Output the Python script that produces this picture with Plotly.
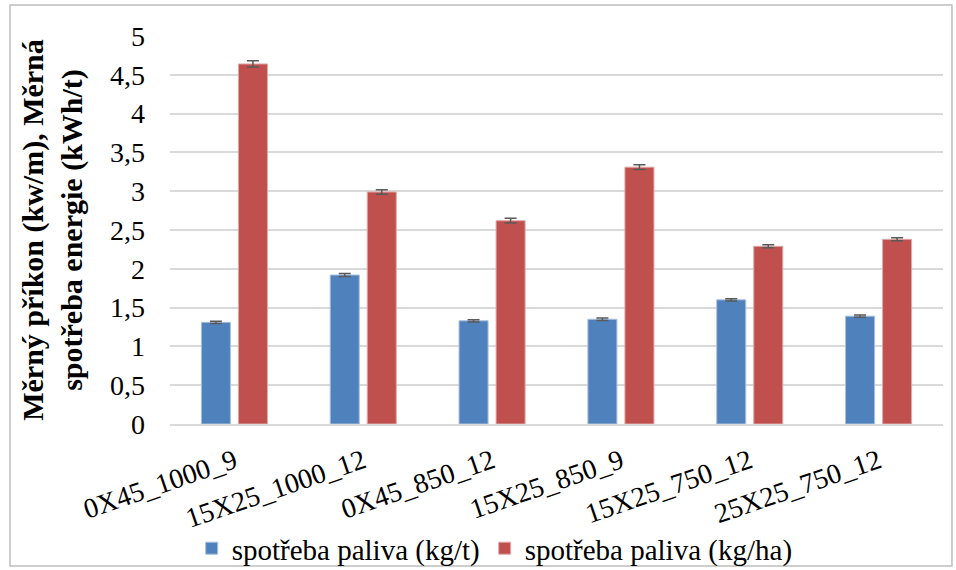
import plotly.graph_objects as go

# data
categories = ['0X45_1000_9', '15X25_1000_12', '0X45_850_12',
              '15X25_850_9', '15X25_750_12', '25X25_750_12']
fuel_kg_t = [1.31, 1.92, 1.33, 1.35, 1.60, 1.39]
fuel_kg_t_err = [0.015, 0.02, 0.015, 0.015, 0.015, 0.015]
fuel_kg_ha = [4.64, 2.99, 2.62, 3.31, 2.29, 2.38]
fuel_kg_ha_err = [0.04, 0.03, 0.03, 0.03, 0.02, 0.02]
y_ticks = [0, 0.5, 1, 1.5, 2, 2.5, 3, 3.5, 4, 4.5, 5]

serif = "'Liberation Serif', 'Times New Roman', Tinos, 'DejaVu Serif', serif"
err_style = dict(type='data', thickness=1.5, width=6, color='#595959')

fig = go.Figure()
fig.add_trace(go.Bar(
    x=categories, y=fuel_kg_t, name='spotřeba paliva (kg/t)',
    marker=dict(color='#4f81bd', line=dict(color='#a9c1e0', width=1)),
    error_y=dict(array=fuel_kg_t_err, **err_style)
))
fig.add_trace(go.Bar(
    x=categories, y=fuel_kg_ha, name='spotřeba paliva (kg/ha)',
    marker=dict(color='#c0504d', line=dict(color='#e0a9a7', width=1)),
    error_y=dict(array=fuel_kg_ha_err, **err_style)
))

fig.update_layout(
    width=956, height=570,
    separators=', ',
    barmode='group',
    bargap=0.425,
    bargroupgap=0.216,
    plot_bgcolor='white',
    paper_bgcolor='white',
    font=dict(family=serif, size=28, color='black'),
    margin=dict(l=170, r=13, t=36, b=146),
    showlegend=True,
    legend=dict(
        orientation='h',
        xref='paper', x=0.42, xanchor='center',
        yref='container', y=0.038, yanchor='middle',
        font=dict(family=serif, size=29),
        bgcolor='rgba(0,0,0,0)',
        itemwidth=30,
        traceorder='normal'
    ),
    shapes=[dict(
        type='rect', xref='paper', yref='paper',
        x0=-0.207, x1=1.0116, y0=-0.366, y1=1.0799,
        line=dict(color='#bfbfbf', width=1.5)
    )]
)

fig.update_xaxes(
    tickangle=-19,
    tickfont=dict(family=serif, size=28),
    ticklabelstandoff=8,
    showline=True, linecolor='#d9d9d9', linewidth=2,
    showgrid=False,
    automargin=False
)
fig.update_yaxes(
    range=[0, 5],
    tickvals=y_ticks,
    tickformat='.1~f',
    tickfont=dict(family=serif, size=28),
    ticklabelstandoff=24,
    showgrid=True, gridcolor='#d9d9d9', gridwidth=1.5,
    zeroline=False,
    automargin=False,
    title=dict(
        text='<b>Měrný příkon (kw/m), Měrná<br>spotřeba energie (kWh/t)</b>',
        font=dict(family=serif, size=30),
        standoff=18
    )
)

# drop the default page margin so the figure sits at the window origin
fig.write_html("out.html", config={'displayModeBar': False},
               post_script="document.body.style.margin='0';")
